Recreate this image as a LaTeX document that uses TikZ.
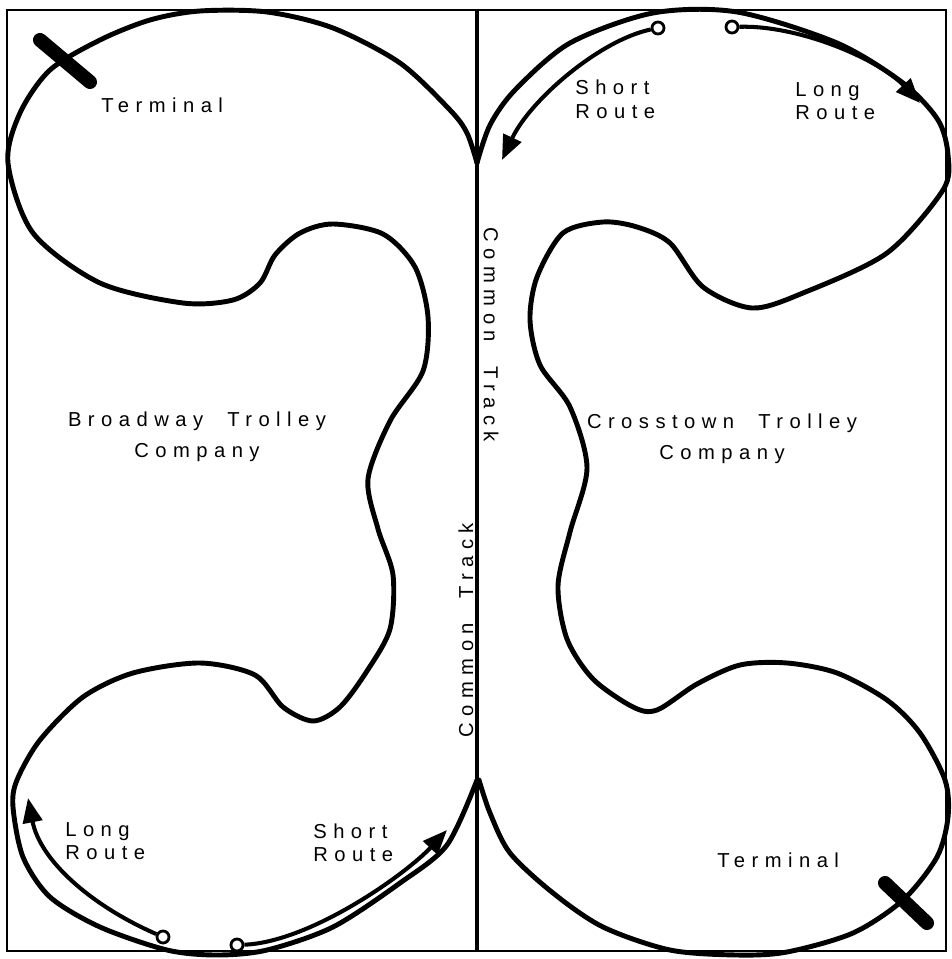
\documentclass[tikz,border=0pt]{standalone}
\usepackage{fontspec}
\newfontfamily\trackfont[LetterSpace=32,WordSpace=2]{Liberation Sans}
\usetikzlibrary{arrows.meta}

\begin{document}
\begin{tikzpicture}[
    x=0.02cm, y=-0.02cm,
    frame/.style={line width=1.6pt},
    track/.style={line width=2.8pt, line join=round, line cap=round},
    route/.style={line width=2.3pt, -{Triangle[length=14pt, width=11pt]}},
    startring/.style={draw, circle, line width=1.6pt, minimum size=0.24cm, inner sep=0pt, fill=white},
    bar/.style={line width=8pt, line cap=round},
    lbl/.style={font=\trackfont\fontsize{11.5pt}{13.5pt}\selectfont, inner sep=0pt, align=left},
    company/.style={lbl, align=center},
]
\useasboundingbox (0,0) rectangle (952,959);
\draw[frame] (7,10) rectangle (946,951);

% common track
\draw[line width=1.9pt] (477,10) -- (477,951);

% Broadway loop
\draw[track] plot[smooth] coordinates {
    (477,163) (467,133) (450,110) (400,63) (333,28) (267,12) (200,11)
    (150,20) (100,40) (50,70) (20,113) (8,163) (33,233) (100,283)
    (183,303) (233,300) (260,283) (275,255) (300,233) (333,224)
    (383,234) (415,267) (428,317) (423,371) (390,421) (368,479)
    (378,529) (393,575) (390,629) (367,671) (340,707) (313,721)
    (283,707) (255,675) (200,663) (133,673) (83,697) (40,740)
    (17,780) (13,807) (23,857) (50,897) (100,927) (167,950)
    (217,955) (267,950) (333,927) (400,883) (447,845) (477,780)};

% Crosstown loop
\draw[track] plot[smooth] coordinates {
    (477,163) (490,125) (515,90) (570,43) (653,13) (737,12) (837,43)
    (903,83) (938,120) (948,155) (943,190) (887,253) (803,293)
    (752,308) (703,287) (670,243) (637,227) (603,222) (563,233)
    (537,277) (530,320) (540,365) (570,407) (587,468) (570,532)
    (558,586) (567,639) (593,679) (633,707) (657,710) (697,684)
    (740,665) (787,663) (837,673) (887,700) (920,733) (945,780)
    (948,817) (937,857) (903,900) (853,933) (787,952) (737,955)
    (670,950) (603,927) (553,893) (510,853) (490,813) (479,780)};

% terminals
\draw[bar] (40,40) -- (90,82);
\draw[bar] (885,883) -- (927,923);

% route arrows
\node[startring] (xsr) at (658,28) {};
\coordinate (xsrend) at (502,160);
\draw[route] (xsr) .. controls (600,40) and (530,100) .. (xsrend);
\node[startring] (xlr) at (732,27) {};
\coordinate (xlrend) at (920,103);
\draw[route] (xlr) .. controls (800,25) and (880,60) .. (xlrend);
\node[startring] (blr) at (163,937) {};
\coordinate (blrend) at (28,798);
\draw[route] (blr) .. controls (90,905) and (40,860) .. (blrend);
\node[startring] (bsr) at (237,945) {};
\coordinate (bsrend) at (447,830);
\draw[route] (bsr) .. controls (310,942) and (405,875) .. (bsrend);

% labels
\node[lbl, anchor=north west] (bterm) at (101,98) {Terminal};
\node[lbl, anchor=north west] (xterm) at (717,852) {Terminal};
\node[company, anchor=north] (bco) at (197,412) {Broadway Trolley\\[4pt]Company};
\node[company, anchor=north] (xco) at (722,414) {Crosstown Trolley\\[4pt]Company};
\node[lbl, anchor=north west] (xsrlbl) at (575,80) {Short\\Route};
\node[lbl, anchor=north west] (xlrlbl) at (795,82) {Long\\Route};
\node[lbl, anchor=north west] (blrlbl) at (65,822) {Long\\Route};
\node[lbl, anchor=north west] (bsrlbl) at (313,823) {Short\\Route};
\node[lbl, rotate=-90] (ctop) at (491,335) {Common Track};
\node[lbl, rotate=90] (cbot) at (466,630) {Common Track};
\end{tikzpicture}
\end{document}
